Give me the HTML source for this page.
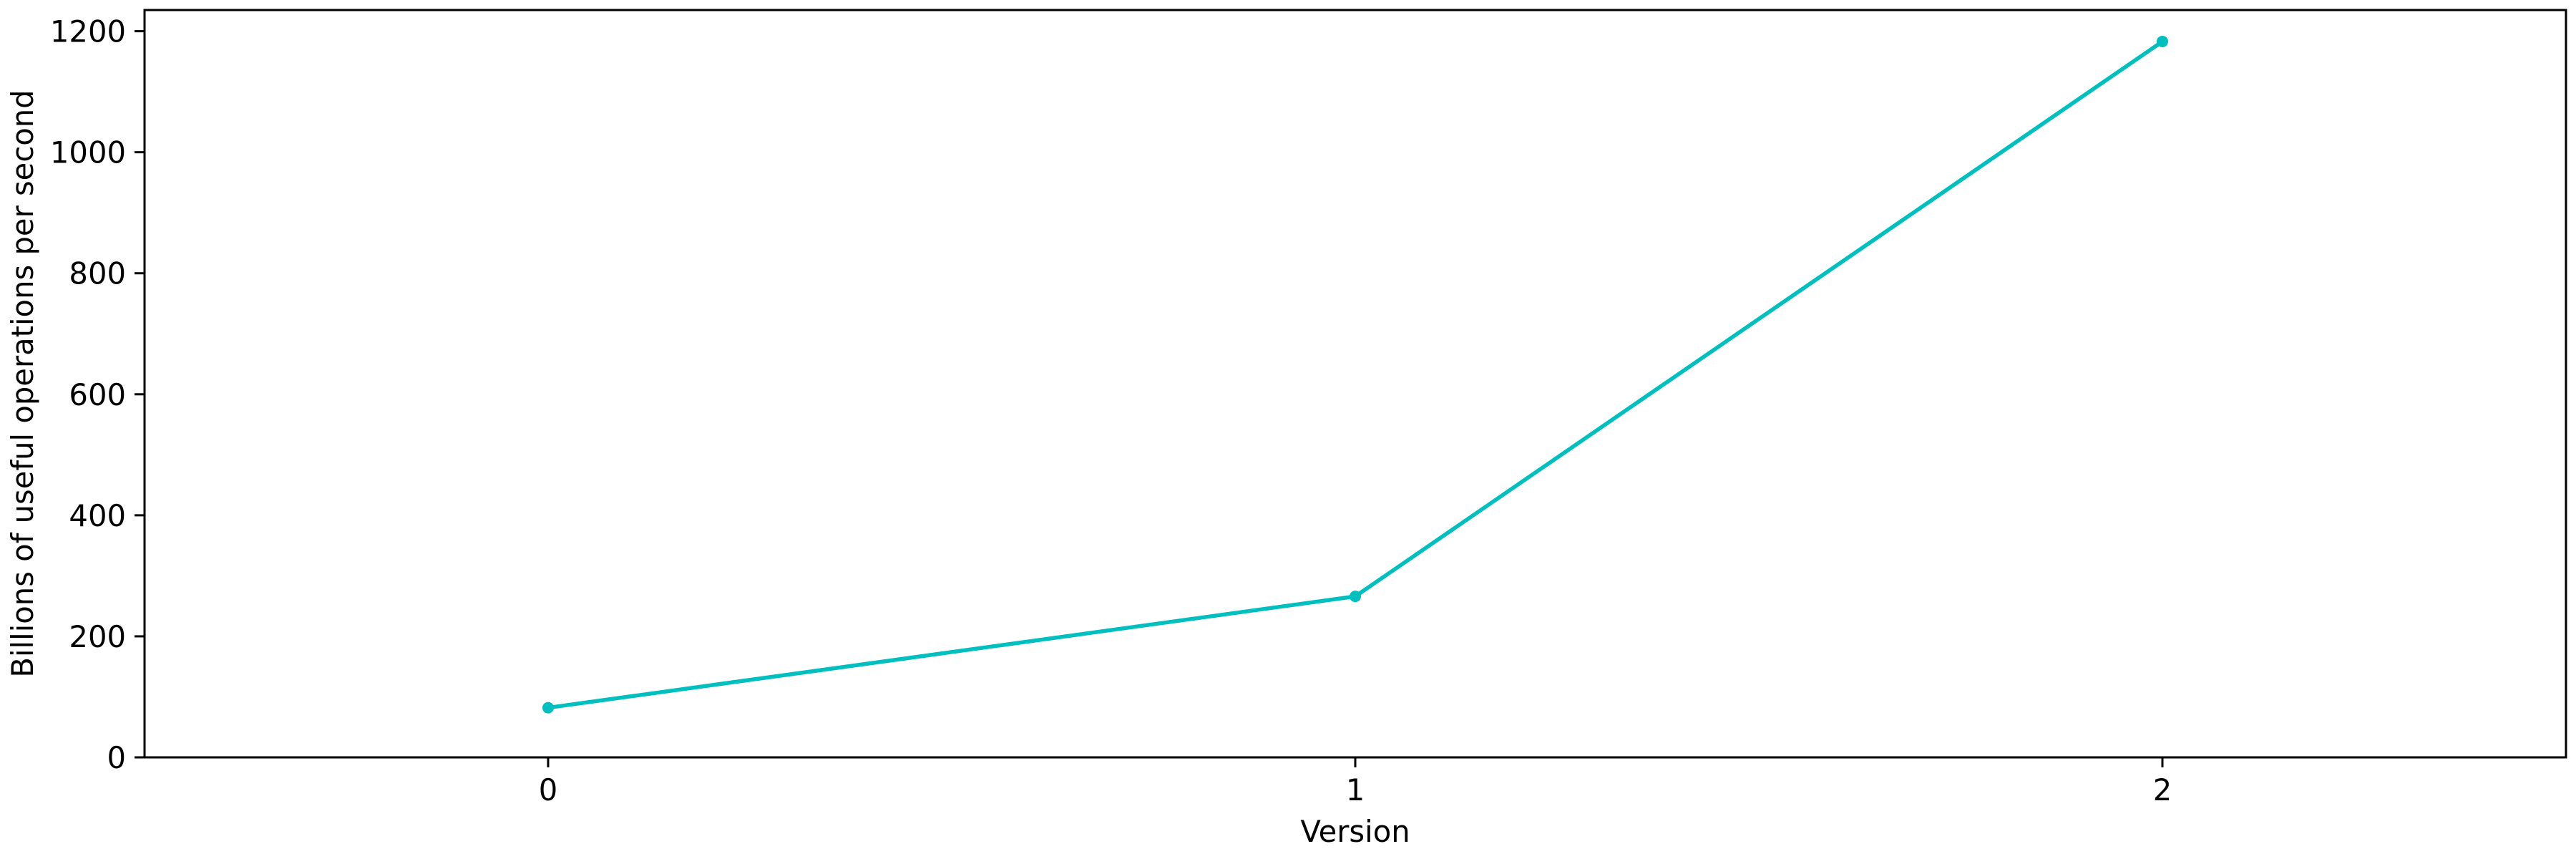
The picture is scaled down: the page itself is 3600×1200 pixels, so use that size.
<!DOCTYPE html>
<html><head><meta charset="utf-8"><style>
html,body{margin:0;padding:0;background:#fff;}
svg{display:block;}
text{font-family:"DejaVu Sans","Liberation Sans",sans-serif;font-size:41.7px;fill:#000;}
</style></head><body>
<svg id="chart" width="3600" height="1200" xmlns="http://www.w3.org/2000/svg">
<rect x="0" y="0" width="3600" height="1200" fill="#fff"/>
<g id="grid"></g>
<g id="marks"></g>
<rect x="202" y="14" width="3384" height="1044" fill="none" stroke="#000" stroke-width="3"/>
<text x="1894" y="1176" text-anchor="middle">Version</text>
<text transform="translate(46,536) rotate(-90)" text-anchor="middle">Billions of useful operations per second</text>
</svg>
<script>
const categories = [0, 1, 2];
const values = [82, 266, 1183];
const yTicks = [0, 200, 400, 600, 800, 1000, 1200];
const xTickLabels = ["0", "1", "2"];

const L = 202, R = 3586, T = 14, B = 1058;
const xMin = -0.5, xMax = 2.5, yMin = 0, yMax = 1235;
const xs = v => L + (v - xMin) / (xMax - xMin) * (R - L);
const ys = v => B - (v - yMin) / (yMax - yMin) * (B - T);
const NS = "http://www.w3.org/2000/svg";
const grid = document.getElementById('grid');
const marks = document.getElementById('marks');

yTicks.forEach(t => {
  const y = ys(t);
  const ln = document.createElementNS(NS, 'line');
  ln.setAttribute('x1', L - 14); ln.setAttribute('x2', L);
  ln.setAttribute('y1', y); ln.setAttribute('y2', y);
  ln.setAttribute('stroke', '#000'); ln.setAttribute('stroke-width', 3);
  
  
  grid.appendChild(ln);
  const tx = document.createElementNS(NS, 'text');
  tx.setAttribute('x', L - 26); tx.setAttribute('y', y + 15);
  tx.setAttribute('text-anchor', 'end');
  tx.textContent = t;
  
  
  grid.appendChild(tx);
});
categories.forEach((c, i) => {
  const x = xs(c);
  const ln = document.createElementNS(NS, 'line');
  ln.setAttribute('x1', x); ln.setAttribute('x2', x);
  ln.setAttribute('y1', B); ln.setAttribute('y2', B + 14);
  ln.setAttribute('stroke', '#000'); ln.setAttribute('stroke-width', 3);
  
  
  grid.appendChild(ln);
  const tx = document.createElementNS(NS, 'text');
  tx.setAttribute('x', x); tx.setAttribute('y', B + 60);
  tx.setAttribute('text-anchor', 'middle');
  tx.textContent = xTickLabels[i];
  
  
  grid.appendChild(tx);
});
const pl = document.createElementNS(NS, 'polyline');
pl.setAttribute('points', categories.map((c, i) => xs(c) + ',' + ys(values[i])).join(' '));
pl.setAttribute('fill', 'none'); pl.setAttribute('stroke', '#00BFBF'); pl.setAttribute('stroke-width', 5.5);
pl.setAttribute('stroke-linejoin', 'round');


marks.appendChild(pl);
categories.forEach((c, i) => {
  const ci = document.createElementNS(NS, 'circle');
  ci.setAttribute('cx', xs(c)); ci.setAttribute('cy', ys(values[i])); ci.setAttribute('r', 8);
  ci.setAttribute('fill', '#00BFBF');
  
  
  marks.appendChild(ci);
});
</script>
</body></html>
